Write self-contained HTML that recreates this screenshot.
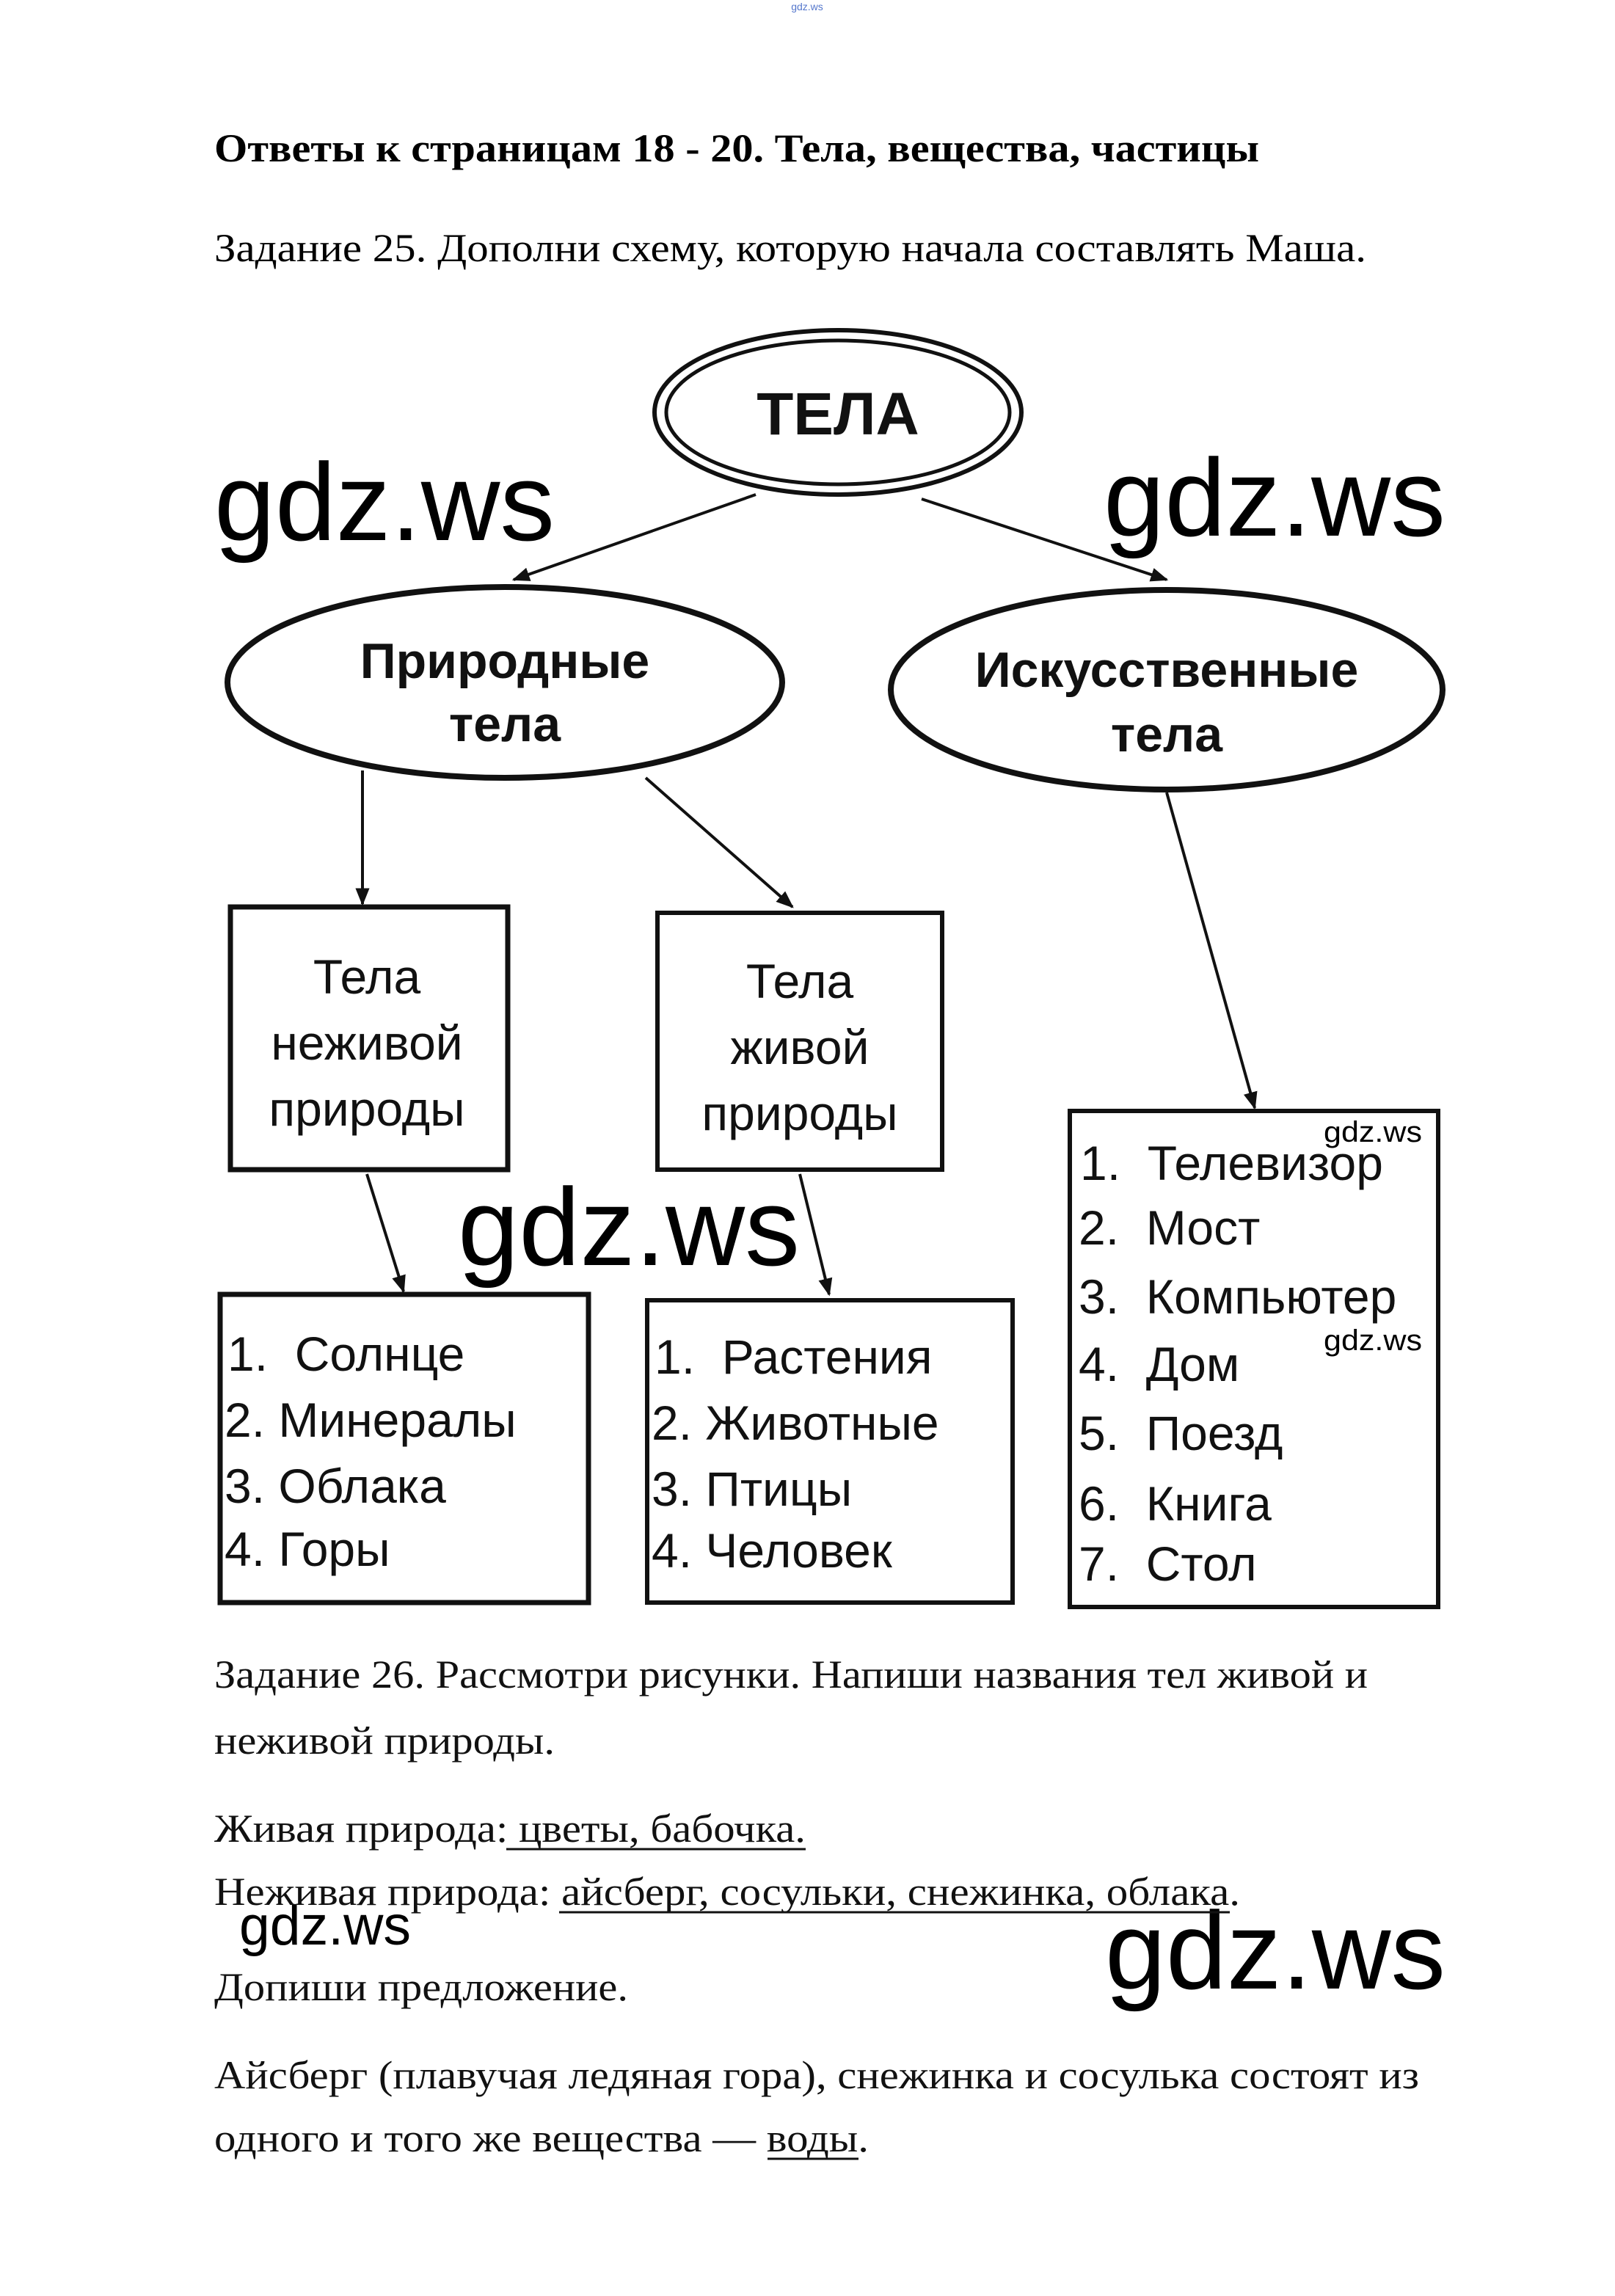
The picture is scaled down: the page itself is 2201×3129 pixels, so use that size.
<!DOCTYPE html>
<html><head><meta charset="utf-8"><style>
html,body{margin:0;padding:0;background:#fff;}
svg{display:block;}
.s{font-family:"Liberation Serif",serif;}
.a{font-family:"Liberation Sans",sans-serif;}
</style></head><body>
<svg width="2201" height="3129" viewBox="0 0 2201 3129" xmlns="http://www.w3.org/2000/svg">
<defs>
<marker id="ar" viewBox="0 0 10 10" refX="9" refY="5" markerWidth="6" markerHeight="6" orient="auto" markerUnits="strokeWidth">
<path d="M0,1 L10,5 L0,9 z" fill="#111"/></marker>
</defs>
<text x="1100" y="14" class="a" font-size="14" fill="#5577cc" text-anchor="middle">gdz.ws</text>
<text x="292" y="220" class="s" font-size="54" font-weight="bold" textLength="1424" lengthAdjust="spacingAndGlyphs">Ответы к страницам 18 - 20. Тела, вещества, частицы</text>
<text x="292" y="356" class="s" font-size="54" textLength="1570" lengthAdjust="spacingAndGlyphs">Задание 25. Дополни схему, которую начала составлять Маша.</text>

<g stroke="#111" fill="none">
<ellipse cx="1142" cy="562" rx="250" ry="112" stroke-width="6"/>
<ellipse cx="1142" cy="562" rx="234" ry="98" stroke-width="5"/>
<ellipse cx="688" cy="930" rx="378" ry="130" stroke-width="8"/>
<ellipse cx="1590" cy="940" rx="376" ry="136" stroke-width="8"/>
<rect x="314" y="1236" width="378" height="358" stroke-width="7"/>
<rect x="896" y="1244" width="388" height="350" stroke-width="6"/>
<rect x="300" y="1764" width="502" height="420" stroke-width="7"/>
<rect x="882" y="1772" width="498" height="412" stroke-width="6"/>
<rect x="1458" y="1514" width="502" height="676" stroke-width="6"/>
<g stroke-width="4" marker-end="url(#ar)">
<line x1="1030" y1="674" x2="700" y2="790"/>
<line x1="1256" y1="680" x2="1590" y2="790"/>
<line x1="494" y1="1050" x2="494" y2="1232"/>
<line x1="880" y1="1060" x2="1080" y2="1236"/>
<line x1="1590" y1="1080" x2="1710" y2="1510"/>
<line x1="500" y1="1600" x2="550" y2="1760"/>
<line x1="1090" y1="1600" x2="1130" y2="1764"/>
</g>
</g>

<g class="a" fill="#111" text-anchor="middle">
<text x="1142" y="592" font-size="82" font-weight="bold">ТЕЛА</text>
<text x="688" y="924" font-size="68" font-weight="bold">Природные</text>
<text x="688" y="1010" font-size="68" font-weight="bold">тела</text>
<text x="1590" y="936" font-size="68" font-weight="bold">Искусственные</text>
<text x="1590" y="1024" font-size="68" font-weight="bold">тела</text>
<text x="500" y="1354" font-size="66">Тела</text>
<text x="500" y="1444" font-size="66">неживой</text>
<text x="500" y="1534" font-size="66">природы</text>
<text x="1090" y="1360" font-size="66">Тела</text>
<text x="1090" y="1450" font-size="66">живой</text>
<text x="1090" y="1540" font-size="66">природы</text>
</g>
<g class="a" fill="#111" font-size="66">
<text x="310" y="1868">1.&#160; Солнце</text>
<text x="306" y="1958">2. Минералы</text>
<text x="306" y="2048">3. Облака</text>
<text x="306" y="2134">4. Горы</text>
<text x="892" y="1872">1.&#160; Растения</text>
<text x="888" y="1962">2. Животные</text>
<text x="888" y="2052">3. Птицы</text>
<text x="888" y="2136">4. Человек</text>
<text x="1472" y="1608">1.&#160; Телевизор</text>
<text x="1470" y="1696">2.&#160; Мост</text>
<text x="1470" y="1790">3.&#160; Компьютер</text>
<text x="1470" y="1882">4.&#160; Дом</text>
<text x="1470" y="1976">5.&#160; Поезд</text>
<text x="1470" y="2072">6.&#160; Книга</text>
<text x="1470" y="2154">7.&#160; Стол</text>
</g>

<g class="a" fill="#000">
<text x="292" y="736" font-size="150" textLength="464" lengthAdjust="spacingAndGlyphs">gdz.ws</text>
<text x="1504" y="730" font-size="150" textLength="466" lengthAdjust="spacingAndGlyphs">gdz.ws</text>
<text x="624" y="1724" font-size="150" textLength="466" lengthAdjust="spacingAndGlyphs">gdz.ws</text>
<text x="1506" y="2710" font-size="150" textLength="464" lengthAdjust="spacingAndGlyphs">gdz.ws</text>
<text x="326" y="2650" font-size="76" textLength="234" lengthAdjust="spacingAndGlyphs">gdz.ws</text>
<text x="1804" y="1556" font-size="40" textLength="134" lengthAdjust="spacingAndGlyphs">gdz.ws</text>
<text x="1804" y="1840" font-size="40" textLength="134" lengthAdjust="spacingAndGlyphs">gdz.ws</text>
</g>

<g class="s" fill="#111" font-size="54">
<text x="292" y="2300" textLength="1572" lengthAdjust="spacingAndGlyphs">Задание 26. Рассмотри рисунки. Напиши названия тел живой и</text>
<text x="292" y="2390" textLength="464" lengthAdjust="spacingAndGlyphs">неживой природы.</text>
<text x="292" y="2510" textLength="806" lengthAdjust="spacingAndGlyphs">Живая природа: цветы, бабочка.</text>
<text x="292" y="2596" textLength="1398" lengthAdjust="spacingAndGlyphs">Неживая природа: айсберг, сосульки, снежинка, облака.</text>
<text x="292" y="2726" textLength="564" lengthAdjust="spacingAndGlyphs">Допиши предложение.</text>
<text x="292" y="2846" textLength="1642" lengthAdjust="spacingAndGlyphs">Айсберг (плавучая ледяная гора), снежинка и сосулька состоят из</text>
<text x="292" y="2932" textLength="892" lengthAdjust="spacingAndGlyphs">одного и того же вещества — воды.</text>
</g>
<g stroke="#111" stroke-width="3">
<line x1="690" y1="2520" x2="1098" y2="2520"/>
<line x1="762" y1="2606" x2="1676" y2="2606"/>
<line x1="1046" y1="2942" x2="1170" y2="2942"/>
</g>
</svg>
</body></html>
